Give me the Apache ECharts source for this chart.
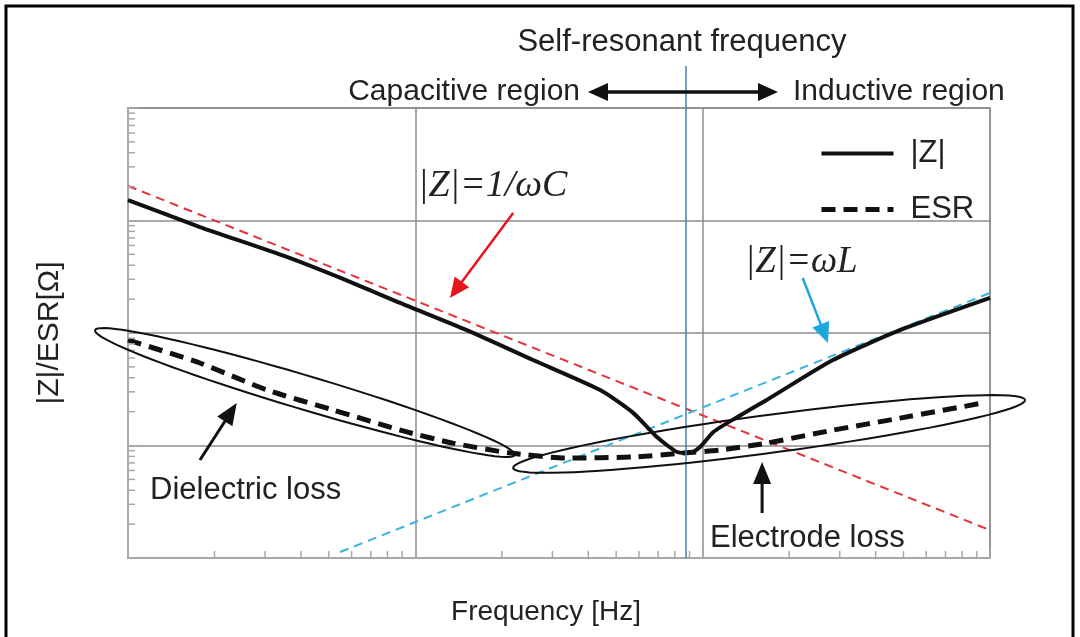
<!DOCTYPE html>
<html>
<head>
<meta charset="utf-8">
<title>Capacitor impedance vs frequency</title>
<script src="https://cdn.jsdelivr.net/npm/echarts@6/dist/echarts.min.js"></script>
<style>
  html, body { margin: 0; padding: 0; background: #fff; }
  #main { width: 1080px; height: 637px; }
</style>
</head>
<body>
<div id="main"></div>
<script>
// |Z| curve, frequency / impedance (log-log, arbitrary units)
var zFreq = [1, 1.78, 3.57, 6.07, 8.85, 15.1, 25.7, 44.0, 57.3, 69.3, 81.5, 90.4, 98, 109, 130, 167, 284, 486, 1000];
var zVal  = [1520, 875, 474, 278, 185, 106, 57.5, 31.1, 19.5, 11.9, 8.75, 8.57, 9.7, 13.2, 17.5, 25.4, 57.5, 106, 205];

// ESR curve
var esrFreq = [1, 1.78, 3.05, 5.17, 9.35, 13.5, 21.4, 33.7, 57.3, 85.5, 115, 167, 284, 486, 946];
var esrVal  = [86.7, 54.1, 31.1, 20.7, 13.2, 10.5, 8.57, 7.74, 7.9, 8.57, 9.12, 10.5, 13.7, 17.5, 23.9];

// ideal capacitor |Z|=1/wC and ideal inductor |Z|=wL
var capFreq = [1, 1000];
var capVal  = [2028, 1.77];
var indFreq = [5.47, 1000];
var indVal  = [1.13, 227];

// self-resonant frequency
var srfFreq = 87.5;

// minor ticks of the log axes
var xMinorTicks = [2, 3, 4, 5, 6, 7, 8, 9, 20, 30, 40, 50, 60, 70, 80, 90, 200, 300, 400, 500, 600, 700, 800, 900];
var yMinorTicks = [2, 3, 4, 5, 6, 7, 8, 9, 20, 30, 40, 50, 60, 70, 80, 90, 200, 300, 400, 500, 600, 700, 800, 900,
                   2000, 3000, 4000, 5000, 6000, 7000, 8000, 9000];

// annotation ellipses: two tips (data coords)
var dielectricTips = [[0.768, 106], [22.2, 8.24]];
var electrodeTips  = [[21.9, 6.31], [1324, 25.4]];

// annotation arrows: tail -> tip (data coords)
var capArrow = [[21.9, 1166], [13.2, 205]];
var indArrow = [[223, 308], [273, 81.5]];
var dielArrow = [[1.78, 7.43], [2.39, 23.9]];
var elecArrow = [[161, 2.51], [161, 7.13]];

function pairs(xs, ys) {
  var out = [];
  for (var i = 0; i < xs.length; i++) out.push([xs[i], ys[i]]);
  return out;
}

var sans = 'Liberation Sans, Arial, sans-serif';
var serif = 'Liberation Serif, Times New Roman, serif';
var gridColor = '#8c8c8c';

var chart = echarts.init(document.getElementById('main'));

var option = {
  animation: false,
  backgroundColor: '#fff',
  grid: { left: 128, right: 90, top: 108, bottom: 79, show: true, borderColor: '#a8a8a8', borderWidth: 2 },
  legend: {
    data: ['|Z|', 'ESR'],
    orient: 'vertical',
    left: 814,
    top: 133,
    itemWidth: 72,
    itemHeight: 14,
    itemGap: 25,
    itemStyle: { opacity: 0 },
    lineStyle: { width: 'inherit' },
    textStyle: { fontSize: 31, fontFamily: sans, color: '#222', padding: [0, 0, 0, 12] }
  },
  xAxis: {
    type: 'log',
    logBase: 10,
    min: 1,
    max: 1000,
    axisLabel: { show: false },
    axisLine: { lineStyle: { color: '#a8a8a8', width: 2 } },
    axisTick: { inside: true, length: 10, lineStyle: { color: '#a8a8a8', width: 1.5 } },
    splitLine: { show: true, lineStyle: { color: gridColor, width: 1.5 } }
  },
  yAxis: {
    type: 'log',
    logBase: 10,
    min: 1,
    max: 10000,
    name: '|Z|/ESR[Ω]',
    nameLocation: 'middle',
    nameGap: 63,
    nameRotate: 90,
    nameTextStyle: { fontSize: 30, fontFamily: sans, color: '#222' },
    axisLabel: { show: false },
    axisLine: { lineStyle: { color: '#a8a8a8', width: 2 } },
    axisTick: { inside: true, length: 10, lineStyle: { color: '#a8a8a8', width: 1.5 } },
    splitLine: { show: true, lineStyle: { color: gridColor, width: 1.5 } }
  },
  series: [
    {
      name: '1/wC', type: 'line', data: pairs(capFreq, capVal), symbol: 'none', z: 2,
      lineStyle: { color: '#e3343c', width: 2, type: [9, 6] }
    },
    {
      name: 'wL', type: 'line', data: pairs(indFreq, indVal), symbol: 'none', z: 2,
      lineStyle: { color: '#3cb3df', width: 2, type: [9, 6] }
    },
    {
      name: '|Z|', type: 'line', data: pairs(zFreq, zVal), symbol: 'none', smooth: 0.2, z: 4,
      lineStyle: { color: '#111', width: 4 }, itemStyle: { color: '#111' }
    },
    {
      name: 'ESR', type: 'line', data: pairs(esrFreq, esrVal), symbol: 'none', smooth: 0.2, z: 4,
      lineStyle: { color: '#111', width: 5, type: [14, 8] }, itemStyle: { color: '#111' }
    }
  ]
};
chart.setOption(option);

function toPx(p) { return chart.convertToPixel({ gridIndex: 0 }, p); }

function ellipse(tips, ry) {
  var a = toPx(tips[0]), b = toPx(tips[1]);
  var cx = (a[0] + b[0]) / 2, cy = (a[1] + b[1]) / 2;
  var dx = b[0] - a[0], dy = b[1] - a[1];
  var len = Math.sqrt(dx * dx + dy * dy), rx = len / 2;
  var ux = dx / len, uy = dy / len;
  var pts = [];
  for (var i = 0; i < 90; i++) {
    var t = i / 90 * Math.PI * 2;
    var u = rx * Math.cos(t), v = ry * Math.sin(t);
    pts.push([cx + u * ux - v * uy, cy + u * uy + v * ux]);
  }
  return { type: 'polygon', z: 20, shape: { points: pts }, style: { fill: 'none', stroke: '#111', lineWidth: 2 } };
}

function arrow(a, b, color, w, hl, hw, both) {
  var dx = b[0] - a[0], dy = b[1] - a[1];
  var len = Math.sqrt(dx * dx + dy * dy), ux = dx / len, uy = dy / len;
  var s = both ? [a[0] + ux * hl * 0.8, a[1] + uy * hl * 0.8] : a;
  var e = [b[0] - ux * hl * 0.8, b[1] - uy * hl * 0.8];
  var els = [{ type: 'line', z: 20, shape: { x1: s[0], y1: s[1], x2: e[0], y2: e[1] }, style: { stroke: color, lineWidth: w } }];
  function head(tip, vx, vy) {
    var bx = tip[0] - vx * hl, by = tip[1] - vy * hl;
    return { type: 'polygon', z: 20, shape: { points: [[tip[0], tip[1]], [bx - vy * hw / 2, by + vx * hw / 2], [bx + vy * hw / 2, by - vx * hw / 2]] },
      style: { fill: color } };
  }
  els.push(head(b, ux, uy));
  if (both) els.push(head(a, -ux, -uy));
  return els;
}

function label(text, x, y, opts) {
  opts = opts || {};
  return {
    type: 'text', z: 30, x: x, y: y,
    style: {
      text: text, fontSize: opts.size || 31, fontFamily: opts.family || sans,
      fontStyle: opts.style || 'normal', fill: opts.color || '#222',
      align: opts.align || 'left', verticalAlign: 'middle'
    }
  };
}

var g = [];

// outer frame
g.push({ type: 'rect', z: 40, shape: { x: 6, y: 6, width: 1067, height: 700 }, style: { fill: 'none', stroke: '#000', lineWidth: 3 } });

// minor ticks
xMinorTicks.forEach(function (v) {
  var p = toPx([v, 1]);
  g.push({ type: 'line', z: 5, shape: { x1: p[0], y1: p[1], x2: p[0], y2: p[1] - 7 }, style: { stroke: '#a8a8a8', lineWidth: 1.5 } });
});
yMinorTicks.forEach(function (v) {
  var p = toPx([1, v]);
  g.push({ type: 'line', z: 5, shape: { x1: p[0], y1: p[1], x2: p[0] + 7, y2: p[1] }, style: { stroke: '#a8a8a8', lineWidth: 1.5 } });
});

// self-resonant frequency line
var srf = toPx([srfFreq, 1]);
g.push({ type: 'line', z: 6, shape: { x1: srf[0], y1: 66, x2: srf[0], y2: srf[1] }, style: { stroke: '#4a7db8', lineWidth: 1.5 } });

// ellipses
g.push(ellipse(dielectricTips, 17));
g.push(ellipse(electrodeTips, 19));

// arrows
g = g.concat(arrow(toPx(capArrow[0]), toPx(capArrow[1]), '#e8141e', 2.5, 20, 18));
g = g.concat(arrow(toPx(indArrow[0]), toPx(indArrow[1]), '#1ea6de', 2.5, 20, 18));
g = g.concat(arrow(toPx(dielArrow[0]), toPx(dielArrow[1]), '#111', 3, 22, 18));
g = g.concat(arrow(toPx(elecArrow[0]), toPx(elecArrow[1]), '#111', 3, 22, 18));
g = g.concat(arrow([588, 92], [778, 92], '#111', 3.5, 20, 18, true));

// texts
g.push(label('Self-resonant frequency', 682, 42, { align: 'center' }));
g.push(label('Capacitive region', 580, 92, { align: 'right', size: 30 }));
g.push(label('Inductive region', 793, 92, { size: 30 }));
g.push(label('|Z|=1/ωC', 418, 186, { family: serif, style: 'italic', size: 38 }));
g.push(label('|Z|=ωL', 745, 262, { family: serif, style: 'italic', size: 37 }));
g.push(label('Dielectric loss', 150, 490));
g.push(label('Electrode loss', 710, 538));
g.push(label('Frequency [Hz]', 546, 612, { align: 'center', size: 28 }));

chart.setOption({ graphic: { elements: g } });
</script>
</body>
</html>
